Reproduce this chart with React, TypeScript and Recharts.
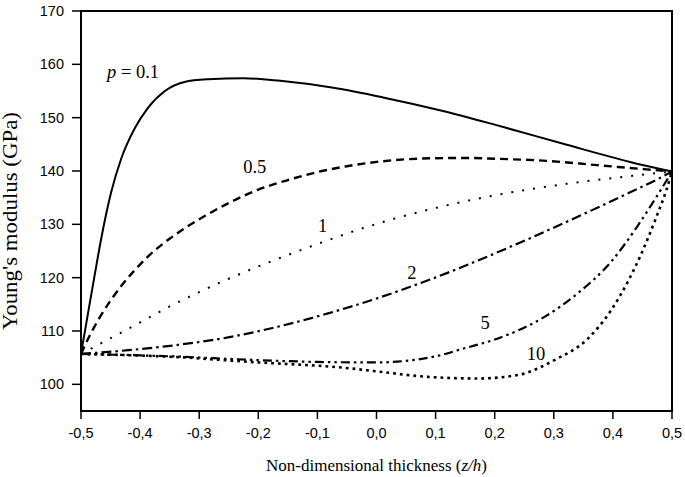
import { LineChart, Line, XAxis, YAxis, ReferenceDot, ReferenceArea } from 'recharts';

// z/h positions and Young's modulus (GPa)
const p01X = [-0.5, -0.488, -0.477, -0.466, -0.449, -0.432, -0.409, -0.387, -0.358, -0.325, -0.285, -0.225, -0.163, -0.073, 0.011, 0.107, 0.203, 0.316, 0.429, 0.5];
const p01Y = [105.7, 113.4, 120.4, 127.2, 136.0, 142.3, 148.0, 151.8, 155.0, 156.7, 157.2, 157.4, 156.9, 155.6, 153.8, 151.4, 148.6, 145.1, 141.7, 139.9];

const p05X = [-0.5, -0.485, -0.468, -0.45, -0.43, -0.41, -0.39, -0.37, -0.35, -0.32, -0.29, -0.25, -0.2, -0.15, -0.1, -0.05, 0.0, 0.05, 0.1, 0.15, 0.2, 0.288, 0.373, 0.457, 0.5];
const p05Y = [105.7, 109.2, 112.6, 115.7, 118.7, 121.3, 123.6, 125.6, 127.3, 129.6, 131.6, 134.0, 136.5, 138.3, 139.8, 140.9, 141.7, 142.2, 142.4, 142.45, 142.3, 141.9, 141.1, 140.3, 139.9];

const p1X = [-0.5, -0.449, -0.4, -0.35, -0.3, -0.25, -0.2, -0.144, -0.09, -0.028, 0.028, 0.105, 0.203, 0.322, 0.401, 0.474, 0.5];
const p1Y = [105.7, 108.7, 111.6, 114.6, 117.3, 119.8, 122.1, 124.5, 126.7, 129.1, 131.0, 133.2, 135.5, 137.6, 138.7, 139.6, 139.9];

const p2X = [-0.5, -0.42, -0.336, -0.251, -0.167, -0.082, 0.003, 0.06, 0.12, 0.18, 0.26, 0.344, 0.429, 0.485, 0.5];
const p2Y = [105.7, 106.4, 107.4, 108.8, 110.8, 113.3, 116.2, 118.4, 120.9, 123.6, 127.4, 131.6, 136.0, 139.0, 139.9];

const p5X = [-0.5, -0.336, -0.214, -0.1, 0.0, 0.05, 0.098, 0.15, 0.2, 0.285, 0.341, 0.397, 0.44, 0.474, 0.494, 0.5];
const p5Y = [105.7, 105.2, 104.6, 104.2, 104.1, 104.4, 105.2, 106.8, 108.4, 112.7, 117.1, 123.0, 129.4, 135.2, 138.8, 139.9];

const p10X = [-0.5, -0.336, -0.214, -0.045, 0.003, 0.087, 0.172, 0.239, 0.302, 0.358, 0.397, 0.426, 0.447, 0.474, 0.491, 0.5];
const p10Y = [105.7, 105.1, 104.2, 103.0, 102.4, 101.4, 101.1, 101.75, 104.6, 108.6, 113.9, 119.4, 124.2, 131.5, 136.6, 139.9];

const xTicks = [-0.5, -0.4, -0.3, -0.2, -0.1, 0, 0.1, 0.2, 0.3, 0.4, 0.5];
const yTicks = [100, 110, 120, 130, 140, 150, 160, 170];

// curve labels: [text, z/h, E]
const curveLabels: [string, number, number][] = [
  ['0.5', -0.206, 139.6],
  ['1', -0.091, 128.6],
  ['2', 0.06, 119.75],
  ['5', 0.184, 110.4],
  ['10', 0.27, 104.6],
];

const toRows = (xs: number[], ys: number[]) => xs.map((x, i) => ({ x, E: ys[i] }));

const series = [
  { name: 'p=0.1', data: toRows(p01X, p01Y), dash: undefined, width: 2 },
  { name: 'p=0.5', data: toRows(p05X, p05Y), dash: '8 5', width: 2.4 },
  { name: 'p=1', data: toRows(p1X, p1Y), dash: '2 9', width: 2 },
  { name: 'p=2', data: toRows(p2X, p2Y), dash: '10 4 2.5 4', width: 2.2 },
  { name: 'p=5', data: toRows(p5X, p5Y), dash: '9 4 2.5 4 2.5 4', width: 2.2 },
  { name: 'p=10', data: toRows(p10X, p10Y), dash: '2.8 4', width: 2.6 },
];

const SERIF = '"Liberation Serif", "Times New Roman", serif';
const SANS = '"Liberation Sans", Arial, sans-serif';
const axisLine = { stroke: '#000', strokeWidth: 2 };
const tickStyle = { fontSize: 14.5, fill: '#000', fontFamily: SANS };

export default function App() {
  return (
    <div style={{ position: 'absolute', left: 0, top: 0, width: 685, height: 477, background: '#fff' }}>
      <LineChart width={685} height={477} margin={{ top: 11, right: 13, bottom: 36, left: 21 }}>
        <XAxis
          dataKey="x"
          type="number"
          domain={[-0.5, 0.5]}
          ticks={xTicks}
          allowDataOverflow
          height={30}
          tickSize={8}
          tickMargin={9}
          axisLine={axisLine}
          tickLine={{ stroke: '#000', strokeWidth: 1.5 }}
          tick={tickStyle}
          tickFormatter={(v: number) => v.toFixed(1).replace('.', ',')}
        />
        <YAxis
          type="number"
          domain={[95, 170]}
          ticks={yTicks}
          allowDataOverflow
          width={60}
          tickSize={9}
          tickMargin={8}
          axisLine={axisLine}
          tickLine={{ stroke: '#000', strokeWidth: 1.5 }}
          tick={tickStyle}
        />
        <ReferenceArea x1={-0.5} x2={0.5} y1={95} y2={170} fill="none" stroke="#000" strokeWidth={2} />
        {series.map((s) => (
          <Line
            key={s.name}
            data={s.data}
            dataKey="E"
            type="monotone"
            stroke="#000"
            strokeWidth={s.width}
            strokeDasharray={s.dash}
            dot={false}
            activeDot={false}
            isAnimationActive={false}
          />
        ))}
        <ReferenceDot
          x={-0.456}
          y={157.4}
          r={0}
          shape={(p: any) => (
            <text x={p.cx} y={p.cy} fontFamily={SERIF} fontSize={18.5} fill="#000">
              <tspan fontStyle="italic">p</tspan> = 0.1
            </text>
          )}
        />
        {curveLabels.map(([t, x, y]) => (
          <ReferenceDot
            key={t}
            x={x}
            y={y}
            r={0}
            shape={(p: any) => (
              <text x={p.cx} y={p.cy} textAnchor="middle" fontFamily={SERIF} fontSize={18.5} fill="#000">
                {t}
              </text>
            )}
          />
        ))}
      </LineChart>
      <svg width={685} height={477} style={{ position: 'absolute', left: 0, top: 0, pointerEvents: 'none' }}>
        <text x={376.5} y={471} textAnchor="middle" fontFamily={SERIF} fontSize={17} fill="#000">
          Non-dimensional thickness (<tspan fontStyle="italic">z/h</tspan>)
        </text>
        <text
          transform="translate(17,221) rotate(-90)"
          textAnchor="middle"
          fontFamily={SERIF}
          fontSize={20}
          textLength={218}
          lengthAdjust="spacingAndGlyphs"
          fill="#000"
        >
          Young's modulus (GPa)
        </text>
      </svg>
    </div>
  );
}
